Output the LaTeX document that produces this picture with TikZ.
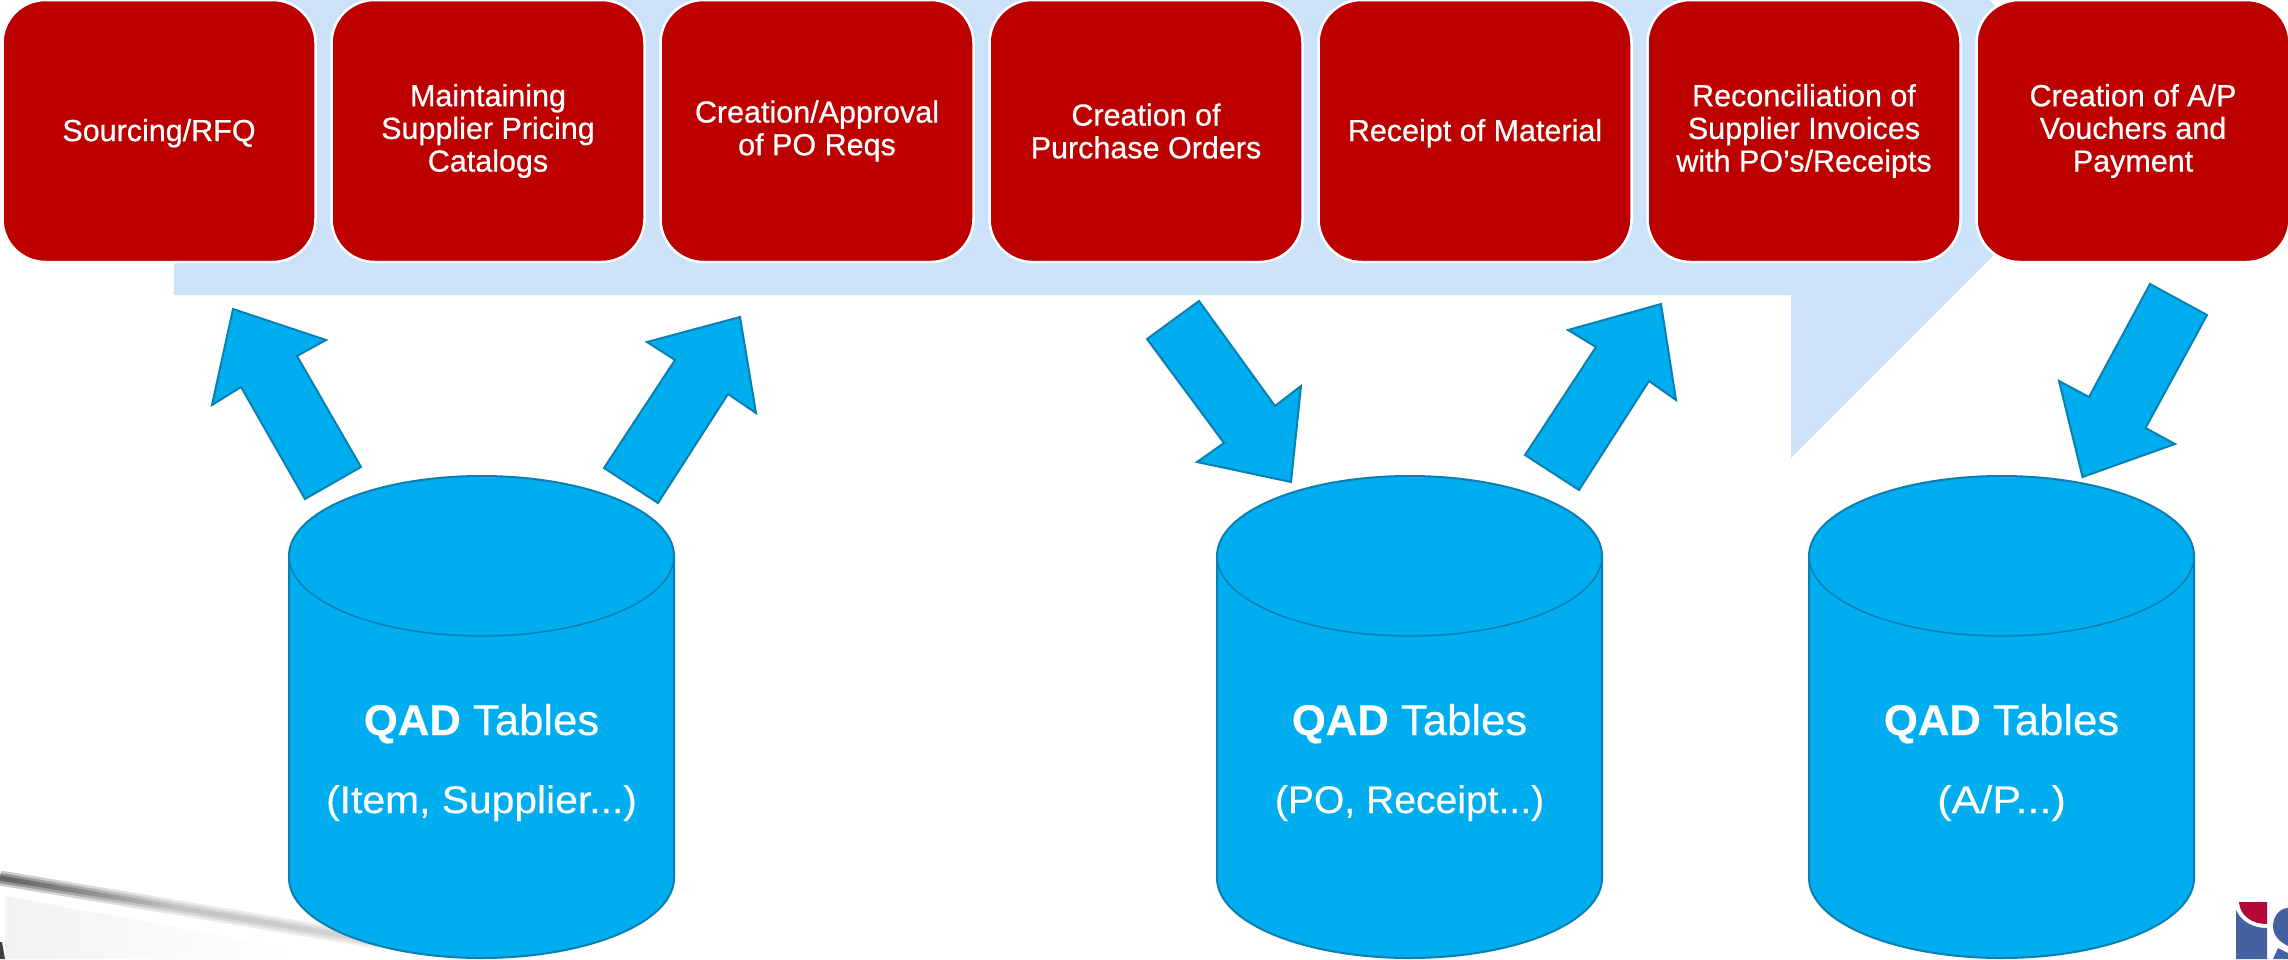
\documentclass[tikz,border=0pt]{standalone}
\usepackage{fontspec}
\setmainfont{Liberation Sans}
\definecolor{procred}{HTML}{BC0000}
\definecolor{band}{HTML}{CCE2F8}
\definecolor{dbblue}{HTML}{00AEEF}
\definecolor{dbline}{HTML}{0A80B2}
\definecolor{logoblue}{HTML}{46619F}
\definecolor{logored}{HTML}{B30838}
\pgfdeclarehorizontalshading{streak}{100bp}{color(0bp)=(black); color(25bp)=(black); color(36bp)=(black!72); color(48bp)=(black!38); color(75bp)=(black!26); color(100bp)=(black!26)}
\tikzset{
  procbox/.style={draw=white,line width=2.5pt,fill=procred,rounded corners=43pt,
    minimum width=313pt,minimum height=262pt,inner sep=0pt,text=white,align=center,
    anchor=center,font=\fontsize{30.5}{32.7}\addfontfeatures{FakeBold=0.6}\selectfont,
    execute at begin node=\rule{0pt}{26.5pt}},
  dbshape/.style={draw=dbline,line width=2pt,fill=dbblue},
  blockarrow/.style={draw=dbline,line width=2pt,fill=dbblue,line join=miter},
  dbhead/.style={text=white,anchor=base,inner sep=0pt,font=\fontsize{43}{50}\addfontfeatures{FakeBold=0.3,FakeStretch=1.015}\selectfont},
  dbsub/.style={text=white,anchor=base,inner sep=0pt,font=\fontsize{38.5}{46}\addfontfeatures{FakeBold=0.3}\selectfont},
}
\newcommand{\dbcylinder}[1]{%
  \path[dbshape] (#1-192.5,556) -- (#1-192.5,878)
    .. controls (#1-192.5,922.2) and (#1-106.3,958) .. (#1,958)
    .. controls (#1+106.3,958) and (#1+192.5,922.2) .. (#1+192.5,878)
    -- (#1+192.5,556)
    .. controls (#1+192.5,511.8) and (#1+106.3,476) .. (#1,476)
    .. controls (#1-106.3,476) and (#1-192.5,511.8) .. (#1-192.5,556) -- cycle;
  \draw[dbline,line width=1.5pt] (#1-192.5,556)
    .. controls (#1-192.5,600.2) and (#1-106.3,636) .. (#1,636)
    .. controls (#1+106.3,636) and (#1+192.5,600.2) .. (#1+192.5,556);
}
\begin{document}
\begin{tikzpicture}[x=1pt,y=-1pt]
\useasboundingbox (0,0) rectangle (2288,959);
\fill[white] (0,0) rectangle (2288,959);
% faint background photograph
\shade[left color=black!5,right color=white] (5,896) -- (300,950) -- (300,959) -- (5,959) -- cycle;
\begin{scope}[shift={(0,878)},rotate=-9.5]
  \shade[shading=streak,opacity=0.22] (0,-7.5) rectangle (385,7.5);
  \shade[shading=streak,opacity=0.28] (0,-5) rectangle (385,5);
  \shade[shading=streak,opacity=0.32] (0,-2.5) rectangle (385,2.5);
\end{scope}
\fill[black!75] (0,942) -- (2,942) -- (5,959) -- (0,959) -- cycle;
% light band with arrow tip
\fill[band] (174,0) -- (1989,0) -- (2119,130) -- (1791,458) -- (1791,295) -- (174,295) -- cycle;
% process boxes
\node[procbox] (p1) at (159,131) {Sourcing/RFQ};
\node[procbox] (p2) at (488,131) {Maintaining\\Supplier Pricing\\Catalogs};
\node[procbox] (p3) at (817,131) {Creation/Approval\\of PO Reqs};
\node[procbox] (p4) at (1146,131) {Creation of\\Purchase Orders};
\node[procbox] (p5) at (1475,131) {Receipt of Material};
\node[procbox] (p6) at (1804,131) {Reconciliation of\\Supplier Invoices\\with PO’s/Receipts};
\node[procbox] (p7) at (2133,131) {Creation of A/P\\Vouchers and\\Payment};
% block arrows
\draw[blockarrow] (233,309) -- (326,340) -- (297,356) -- (361,467) -- (305,499) -- (241,387) -- (212,405) -- cycle;
\draw[blockarrow] (740,317) -- (756,413) -- (728,394) -- (658,503) -- (604,468) -- (675,360) -- (647,342) -- cycle;
\draw[blockarrow] (1199,301) -- (1275,406) -- (1301,386) -- (1291,482) -- (1197,462) -- (1224,443) -- (1147,339) -- cycle;
\draw[blockarrow] (1661,304) -- (1676,400) -- (1649,381) -- (1579,490) -- (1525,455) -- (1596,347) -- (1568,330) -- cycle;
\draw[blockarrow] (2150,284) -- (2207,315) -- (2145.5,428) -- (2175,444) -- (2082.5,477) -- (2059,381) -- (2089,397) -- cycle;
% database cylinders
\dbcylinder{481.5}
\dbcylinder{1409.5}
\dbcylinder{2001.5}
\node[dbhead] (h1) at (481.5,735) {\textbf{QAD} Tables};
\node[dbsub] (s1) at (481.5,813) {\addfontfeatures{FakeBold=0.3,FakeStretch=1.06}(Item, Supplier...)};
\node[dbhead] (h2) at (1409.5,735) {\textbf{QAD} Tables};
\node[dbsub] (s2) at (1409.5,813) {\addfontfeatures{FakeBold=0.3,FakeStretch=1.015}(PO, Receipt...)};
\node[dbhead] (h3) at (2001.5,735) {\textbf{QAD} Tables};
\node[dbsub] (s3) at (2001.5,813) {\addfontfeatures{FakeBold=0.3,FakeStretch=1.12}(A/P...)};
% logo, cropped by the edge
\fill[logored] (2239,902) -- (2267,902) -- (2267,924) .. controls (2252,924) and (2240,916) .. (2239,902) -- cycle;
\fill[logoblue] (2236,910) .. controls (2241,921) and (2252,928) .. (2267,928) -- (2267,959) -- (2236,959) -- cycle;
\fill[logoblue] (2288,908) .. controls (2280,908) and (2273,916) .. (2273,926) .. controls (2273,936) and (2280,942) .. (2288,946) -- cycle;
\fill[logoblue] (2273,959) -- (2278,948) -- (2288,953) -- (2288,959) -- cycle;
\end{tikzpicture}
\end{document}
